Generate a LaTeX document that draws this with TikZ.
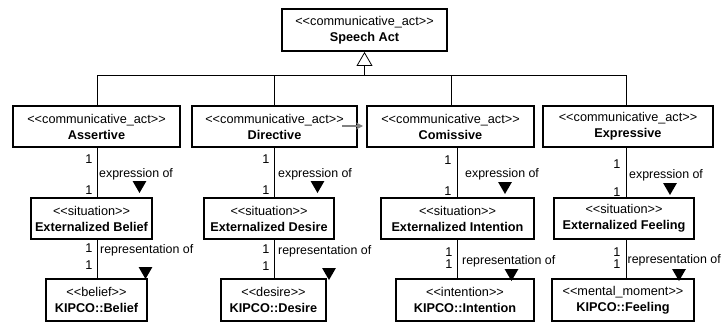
\documentclass[tikz,border=0pt]{standalone}
\usepackage{fontspec}
\setmainfont{Liberation Sans}
\usetikzlibrary{arrows.meta,shapes.geometric}
\newcommand\stereo[1]{<\kern0pt<#1>\kern0pt>}
\begin{document}
\begin{tikzpicture}[x=1pt,y=-1pt,
  cls/.style={draw,line width=1.9pt,align=center,inner sep=0pt,
    font=\fontsize{12.7}{16}\selectfont},
  conn/.style={line width=0.8pt},
  mult/.style={font=\fontsize{12.7}{15}\selectfont,inner sep=0pt},
  role/.style={font=\fontsize{12.4}{15}\selectfont,anchor=west,inner sep=0pt},
  navtri/.style={regular polygon,regular polygon sides=3,shape border rotate=180,
    fill=black,inner sep=0pt,minimum size=16pt},
  gentri/.style={regular polygon,regular polygon sides=3,draw,fill=white,
    line width=0.8pt,inner sep=0pt,minimum size=17pt}]
\useasboundingbox (0,0) rectangle (721,324);

% top
\node[cls,minimum width=165pt,minimum height=42pt] (sa) at (364.5,30)
  {\stereo{communicative\_act}\\\textbf{Speech Act}};

% row 2
\node[cls,minimum width=167pt,minimum height=41pt] (as) at (96.5,126.5)
  {\stereo{communicative\_act}\\\textbf{Assertive}};
\node[cls,minimum width=165pt,minimum height=41pt] (di) at (274.5,126.5)
  {\stereo{communicative\_act}\\\textbf{Directive}};
\node[cls,minimum width=167pt,minimum height=41pt] (co) at (450.5,126.5)
  {\stereo{communicative\_act}\\\textbf{Comissive}};
\node[cls,minimum width=170pt,minimum height=41pt] (ex) at (628,126.5)
  {\stereo{communicative\_act}\\\textbf{Expressive}};

% row 3
\node[cls,minimum width=121pt,minimum height=41pt] (eb) at (91.5,218.5)
  {\stereo{situation}\\\textbf{Externalized Belief}};
\node[cls,minimum width=130pt,minimum height=41pt] (ed) at (269,218.5)
  {\stereo{situation}\\\textbf{Externalized Desire}};
\node[cls,minimum width=153pt,minimum height=41pt] (ei) at (457.5,218.5)
  {\stereo{situation}\\\textbf{Externalized Intention}};
\node[cls,minimum width=140pt,minimum height=41pt] (ef) at (624,218.5)
  {\stereo{situation}\\\textbf{Externalized Feeling}};

% row 4
\node[cls,minimum width=101pt,minimum height=42pt] (kb) at (96.5,300)
  {\stereo{belief}\\\textbf{KIPCO::Belief}};
\node[cls,minimum width=105pt,minimum height=42pt] (kd) at (273.5,300)
  {\stereo{desire}\\\textbf{KIPCO::Desire}};
\node[cls,minimum width=138pt,minimum height=42pt] (ki) at (465,300)
  {\stereo{intention}\\\textbf{KIPCO::Intention}};
\node[cls,minimum width=142pt,minimum height=42pt] (kf) at (623,300)
  {\stereo{mental\_moment}\\\textbf{KIPCO::Feeling}};

% generalization
\node[gentri,anchor=north] (gt) at (sa.south) {};
\coordinate (bus) at (364.5,75);
\draw[conn] (gt.south) -- (bus);
\draw[conn] (as.north -| 97,0) |- (bus);
\draw[conn] (di.north -| 274,0) -- (274,75);
\draw[conn] (co.north -| 451,0) -- (451,75);
\draw[conn] (ex.north -| 626,0) |- (bus);

% gray arrow
\coordinate (ga1) at (342,126);
\coordinate (ga2) at (363,126);
\draw[gray,line width=1.6pt,-{Stealth[length=7pt,width=7pt]}] (ga1) -- (ga2);

% associations
\draw[conn] (as.south -| 97,0) -- (eb.north -| 97,0);
\draw[conn] (eb.south -| 97,0) -- (kb.north -| 97,0);
\draw[conn] (di.south -| 274,0) -- (ed.north -| 274,0);
\draw[conn] (ed.south -| 274,0) -- (kd.north -| 274,0);
\draw[conn] (co.south -| 457,0) -- (ei.north -| 457,0);
\draw[conn] (ei.south -| 457,0) -- (ki.north -| 457,0);
\draw[conn] (ex.south -| 626,0) -- (ef.north -| 626,0);
\draw[conn] (ef.south -| 626,0) -- (kf.north -| 626,0);

% column 1
\node[mult] (m1a) at (89,159) {1};
\node[mult] (m1b) at (89,190) {1};
\node[role] (r1a) at (99,174) {expression of};
\node[navtri] (t1a) at (139.5,185) {};
\node[mult] (m1c) at (89,248) {1};
\node[mult] (m1d) at (89,265) {1};
\node[role] (r1b) at (100,250) {representation of};
\node[navtri] (t1b) at (145.5,271) {};

% column 2
\node[mult] (m2a) at (266,159) {1};
\node[mult] (m2b) at (266,190) {1};
\node[role] (r2a) at (278,174) {expression of};
\node[navtri] (t2a) at (317.5,185) {};
\node[mult] (m2c) at (266,249) {1};
\node[mult] (m2d) at (266,266) {1};
\node[role] (r2b) at (278,251) {representation of};
\node[navtri] (t2b) at (329,272) {};

% column 3
\node[mult] (m3a) at (448,160) {1};
\node[mult] (m3b) at (448,191) {1};
\node[role] (r3a) at (465,174) {expression of};
\node[navtri] (t3a) at (505,186) {};
\node[mult] (m3c) at (449,252) {1};
\node[mult] (m3d) at (449,264) {1};
\node[role] (r3b) at (462,261) {representation of};
\node[navtri] (t3b) at (511.5,273) {};

% column 4
\node[mult] (m4a) at (617,164) {1};
\node[mult] (m4b) at (617,192) {1};
\node[role] (r4a) at (629,175) {expression of};
\node[navtri] (t4a) at (670,187) {};
\node[mult] (m4c) at (617,252) {1};
\node[mult] (m4d) at (617,264) {1};
\node[role] (r4b) at (627.5,260) {representation of};
\node[navtri] (t4b) at (679,273) {};
\end{tikzpicture}
\end{document}
